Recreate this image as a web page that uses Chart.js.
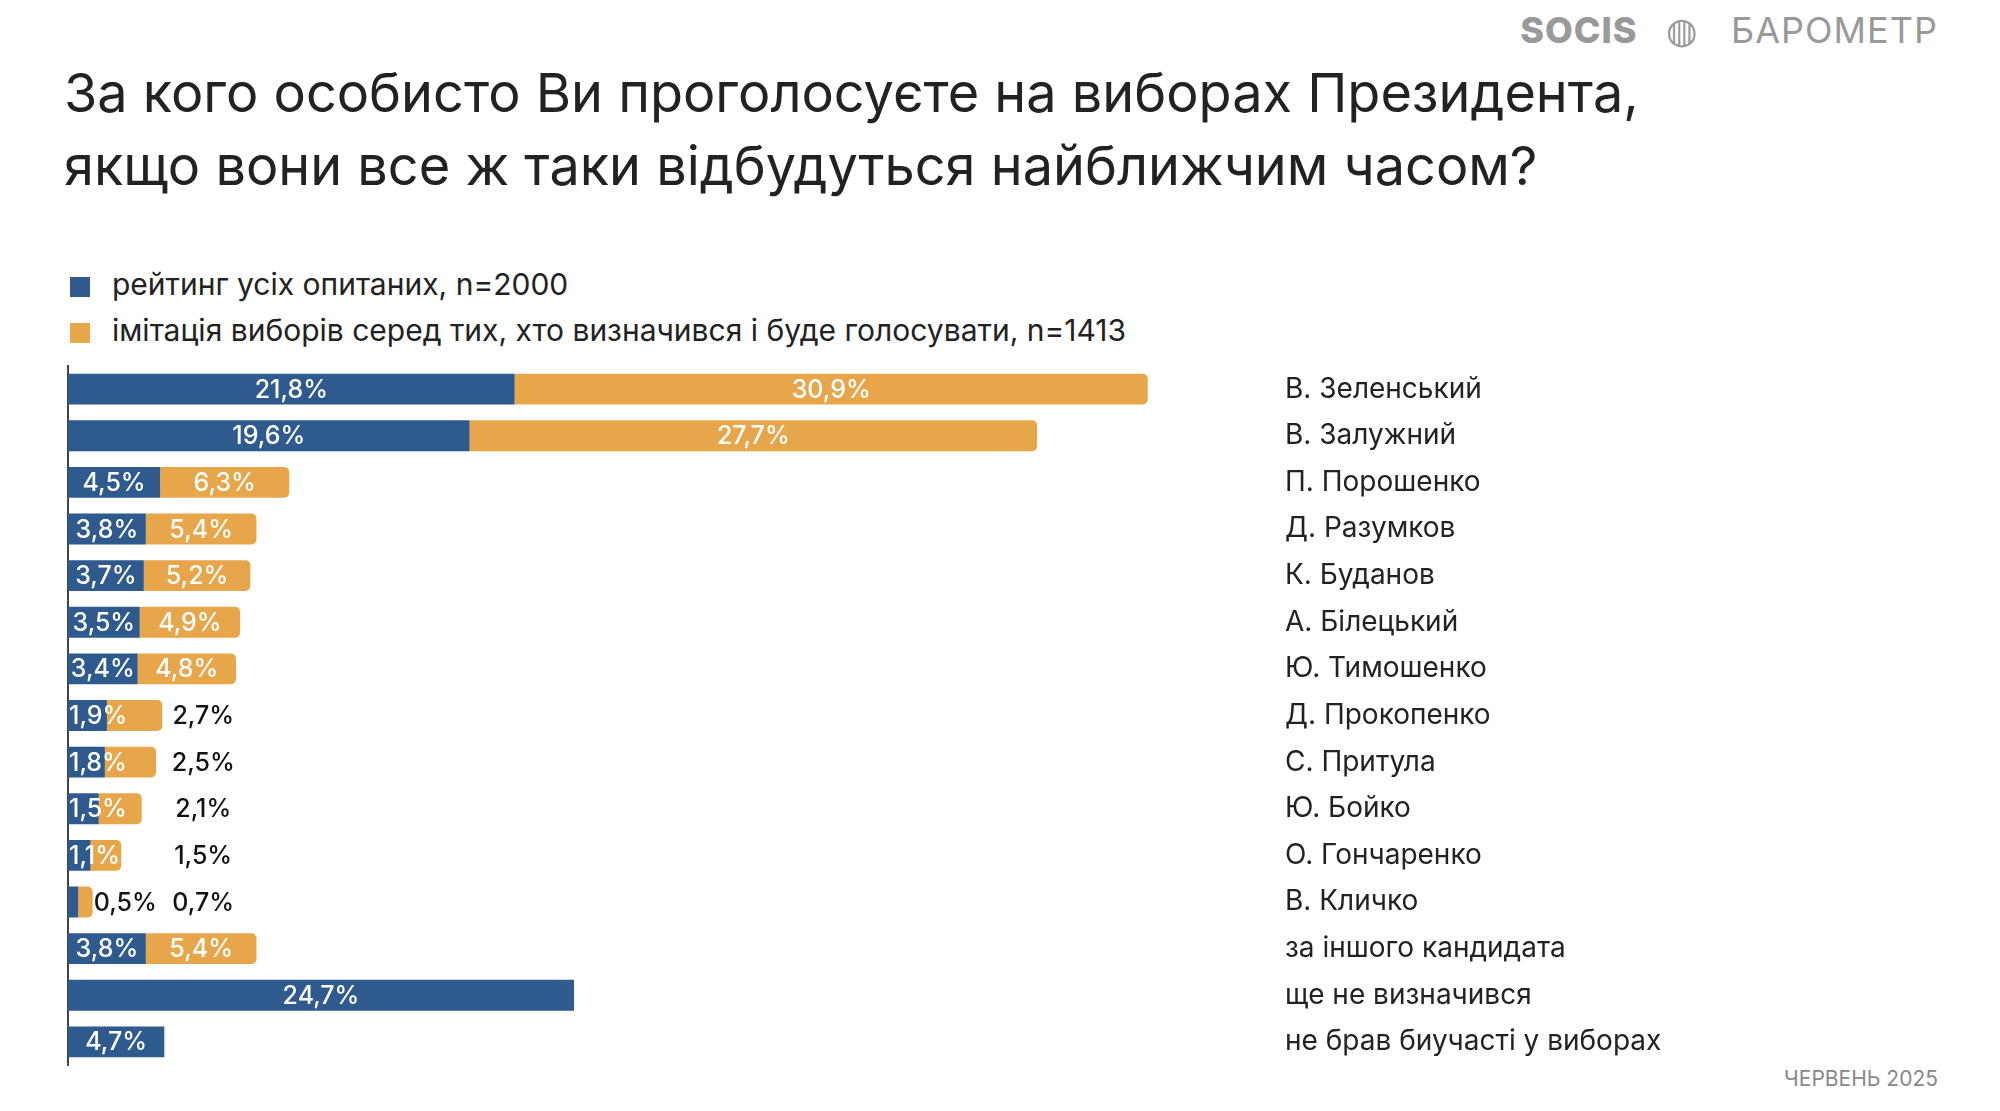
<!DOCTYPE html>
<html><head><meta charset="utf-8">
<script src="https://cdn.jsdelivr.net/npm/chart.js@4"></script>
<style>
body{margin:0;width:2000px;height:1111px;background:#fff;font-family:Inter,"Noto Sans",sans-serif;position:relative;overflow:hidden}
#title{position:absolute;left:64px;top:56px;font-size:54px;line-height:73px;color:#222;font-weight:400}
#logo{position:absolute;right:62px;top:8px;font-size:36px;color:#999;letter-spacing:1px}
#logo b{font-weight:800;margin-right:28px}
#date{position:absolute;right:62px;top:1066px;font-size:21px;color:#888}
.lg{position:absolute;left:70px;font-size:30px;color:#222}
.lg i{display:inline-block;width:20px;height:20px;margin-right:22px;vertical-align:-2px}
#wrap{position:absolute;left:0;top:349px;width:2000px;height:733px}
</style></head><body>
<div id="title">За кого особисто Ви проголосуєте на виборах Президента,<br>якщо вони все ж таки відбудуться найближчим часом?</div>
<div id="logo"><b>SOCIS</b>◍&nbsp;&nbsp; БАРОМЕТР</div>
<div class="lg" style="top:266px"><i style="background:#2e5a8e"></i>рейтинг усіх опитаних, n=2000</div>
<div class="lg" style="top:312px"><i style="background:#e8a64a"></i>імітація виборів серед тих, хто визначився і буде голосувати, n=1413</div>
<div id="date">ЧЕРВЕНЬ 2025</div>
<div id="wrap"><canvas id="c"></canvas></div>
<script>
const categories=["В. Зеленський","В. Залужний","П. Порошенко","Д. Разумков","К. Буданов","А. Білецький","Ю. Тимошенко","Д. Прокопенко","С. Притула","Ю. Бойко","О. Гончаренко","В. Кличко","за іншого кандидата","ще не визначився","не брав биучасті у виборах"];
const allRespondents=[21.8,19.6,4.5,3.8,3.7,3.5,3.4,1.9,1.8,1.5,1.1,0.5,3.8,24.7,4.7];
const decidedVoters=[30.9,27.7,6.3,5.4,5.2,4.9,4.8,2.7,2.5,2.1,1.5,0.7,5.4,null,null];
const fmt=v=>v.toFixed(1).replace('.',',')+'%';
const labelsPlugin={id:'lbl',afterDraw(ch){
 const ctx=ch.ctx,xs=ch.scales.x;ctx.save();ctx.font='500 25px Inter';ctx.textBaseline='middle';
 ch.data.datasets.forEach((ds,di)=>{ch.getDatasetMeta(di).data.forEach((b,i)=>{
  const v=ds.data[i];if(v==null)return;
  const t=fmt(v),w=ctx.measureText(t).width;
  let x=(b.base+b.x)/2,col='#fff',al='center';
  if(di===0&&v<1){x=xs.getPixelForValue(2.8);col='#111';}
  else if(di===1&&v<3){x=xs.getPixelForValue(6.6);col='#111';}
  else if(w+4>b.x-b.base){x=b.base+1;al='left';}
  ctx.textAlign=al;ctx.fillStyle=col;ctx.fillText(t,x,b.y+1);});});
 ctx.restore();}};
new Chart(document.getElementById('c'),{type:'bar',
 data:{labels:categories,datasets:[
  {data:allRespondents,backgroundColor:'#2e5a8e',borderRadius:0,categoryPercentage:1,barPercentage:0.66,borderSkipped:false},
  {data:decidedVoters,backgroundColor:'#e8a64a',borderRadius:{topLeft:0,bottomLeft:0,topRight:5,bottomRight:5},borderSkipped:false,categoryPercentage:1,barPercentage:0.66}]},
 options:{indexAxis:'y',responsive:true,maintainAspectRatio:false,animation:false,
  layout:{padding:0},
  plugins:{legend:{display:false},tooltip:{enabled:false}},
  scales:{
   x:{stacked:true,min:0,max:59.4,display:false},
   y:{stacked:true,position:'left',ticks:{display:false},grid:{display:false,drawTicks:false},border:{display:true,color:'#444',width:2},afterFit(s){s.width=68;}},
   y2:{type:'category',labels:categories,position:'right',grid:{display:false,drawTicks:false},border:{display:false},
     ticks:{color:'#222',font:{family:'Inter',size:28},padding:0,crossAlign:'near'},afterFit(s){s.width=715;}}
  }},plugins:[labelsPlugin]});
</script></body></html>
